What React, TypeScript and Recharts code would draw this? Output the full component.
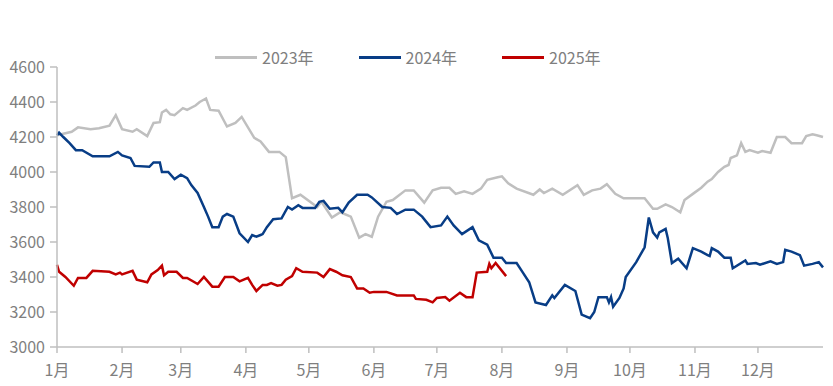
import React from "react";
import { LineChart, Line, XAxis, YAxis } from "recharts";

// x = day of year (0 = 1 Jan), y = price
const days2023 = [0, 7, 10, 16, 20, 25, 28, 31, 36, 38, 43, 46, 49, 50, 52, 54, 56, 60, 62, 66, 68, 71, 73, 77, 81, 85, 88, 94, 97, 101, 106, 109, 112, 116, 124, 126, 131, 135, 140, 144, 147, 150, 153, 157, 160, 166, 170, 175, 179, 183, 187, 190, 194, 198, 202, 205, 210, 212, 215, 219, 227, 230, 232, 236, 241, 248, 251, 255, 259, 262, 266, 270, 280, 284, 286, 290, 293, 297, 299, 303, 307, 310, 312, 315, 318, 320, 321, 324, 326, 328, 330, 334, 336, 340, 343, 347, 350, 355, 357, 360, 362, 365];
const values2023 = [4210, 4230, 4255, 4245, 4250, 4265, 4325, 4245, 4230, 4245, 4205, 4280, 4285, 4340, 4355, 4330, 4325, 4365, 4355, 4380, 4400, 4420, 4355, 4350, 4260, 4280, 4315, 4195, 4175, 4115, 4115, 4085, 3850, 3870, 3800, 3830, 3740, 3770, 3745, 3625, 3645, 3630, 3745, 3830, 3840, 3895, 3895, 3825, 3895, 3910, 3910, 3875, 3890, 3875, 3905, 3955, 3970, 3975, 3935, 3905, 3870, 3900, 3880, 3905, 3870, 3925, 3870, 3895, 3905, 3930, 3875, 3850, 3850, 3790, 3790, 3815, 3800, 3770, 3840, 3875, 3910, 3945, 3960, 4000, 4030, 4040, 4080, 4095, 4165, 4115, 4125, 4110, 4120, 4110, 4200, 4200, 4165, 4165, 4205, 4215, 4210, 4200];

const days2024 = [0, 1, 3, 6, 9, 12, 17, 25, 29, 31, 35, 37, 44, 46, 49, 50, 53, 56, 59, 62, 64, 67, 70, 72, 74, 77, 79, 81, 84, 87, 91, 93, 95, 97, 98, 100, 103, 107, 110, 112, 115, 117, 123, 125, 127, 130, 134, 136, 139, 143, 148, 150, 155, 159, 162, 166, 170, 174, 178, 183, 186, 189, 193, 198, 201, 205, 208, 212, 214, 219, 222, 225, 228, 233, 236, 237, 242, 247, 250, 254, 256, 258, 262, 263, 264, 265, 268, 270, 271, 276, 280, 282, 284, 286, 287, 290, 291, 293, 296, 300, 303, 307, 310, 311, 312, 315, 318, 321, 322, 328, 329, 333, 335, 340, 343, 346, 347, 350, 354, 356, 360, 363, 365];
const values2024 = [4210, 4225, 4200, 4165, 4125, 4125, 4090, 4090, 4115, 4095, 4080, 4035, 4030, 4055, 4055, 4000, 4000, 3960, 3985, 3965, 3925, 3880, 3800, 3745, 3685, 3685, 3745, 3760, 3745, 3650, 3600, 3640, 3630, 3640, 3645, 3685, 3730, 3735, 3800, 3785, 3810, 3795, 3795, 3830, 3835, 3790, 3795, 3770, 3825, 3870, 3870, 3855, 3800, 3795, 3760, 3785, 3785, 3745, 3685, 3695, 3745, 3695, 3645, 3685, 3610, 3585, 3510, 3510, 3480, 3480, 3425, 3370, 3255, 3240, 3295, 3280, 3355, 3320, 3185, 3165, 3200, 3285, 3285, 3255, 3285, 3230, 3280, 3335, 3400, 3485, 3570, 3740, 3655, 3625, 3655, 3675, 3625, 3480, 3505, 3450, 3565, 3545, 3525, 3520, 3565, 3545, 3510, 3510, 3450, 3495, 3475, 3480, 3470, 3490, 3475, 3485, 3555, 3545, 3525, 3465, 3475, 3485, 3455];

const days2025 = [0, 1, 4, 8, 10, 14, 17, 25, 28, 30, 31, 36, 38, 43, 45, 48, 50, 51, 53, 57, 60, 62, 67, 70, 74, 77, 80, 84, 87, 91, 93, 95, 98, 100, 102, 105, 107, 109, 112, 114, 117, 124, 127, 130, 133, 136, 140, 143, 146, 149, 151, 157, 162, 170, 171, 176, 179, 181, 185, 187, 192, 195, 198, 200, 205, 206, 207, 209, 214];
const values2025 = [3470, 3430, 3400, 3350, 3395, 3395, 3435, 3430, 3415, 3425, 3415, 3435, 3385, 3370, 3415, 3440, 3465, 3410, 3430, 3430, 3395, 3395, 3360, 3400, 3345, 3345, 3400, 3400, 3375, 3395, 3355, 3320, 3355, 3355, 3365, 3350, 3355, 3385, 3405, 3450, 3430, 3425, 3400, 3445, 3430, 3410, 3400, 3335, 3335, 3310, 3315, 3315, 3295, 3295, 3275, 3270, 3255, 3280, 3285, 3265, 3310, 3285, 3285, 3425, 3430, 3475, 3450, 3480, 3405];

const monthStarts = [0, 31, 59, 90, 120, 151, 181, 212, 243, 273, 304, 334];
const monthLabels = ["1月", "2月", "3月", "4月", "5月", "6月", "7月", "8月", "9月", "10月", "11月", "12月"];
const yTicks = [3000, 3200, 3400, 3600, 3800, 4000, 4200, 4400, 4600];

const zip = (days: number[], values: number[]) => days.map((d, i) => ({ day: d, value: values[i] }));

const series = [
  { name: "2023年", color: "#bfbfbf", data: zip(days2023, values2023) },
  { name: "2024年", color: "#083d86", data: zip(days2024, values2024) },
  { name: "2025年", color: "#c00000", data: zip(days2025, values2025) },
];

const FONT = "'Noto Sans CJK SC', 'Noto Sans', sans-serif";
const axisColor = "#bfbfbf";
const textColor = "#7f7f7f";

function LegendRow() {
  return (
    <div
      style={{
        position: "absolute", top: 45, left: 215, height: 24,
        display: "flex", alignItems: "center", fontFamily: FONT, fontSize: 16, color: textColor,
      }}
    >
      {series.map((s, i) => (
        <div key={s.name} style={{ display: "flex", alignItems: "center", marginRight: i < series.length - 1 ? 45 : 0 }}>
          <span style={{ display: "inline-block", width: 42, height: 3, background: s.color, marginRight: 5 }} />
          <span>{s.name}</span>
        </div>
      ))}
    </div>
  );
}

export default function App() {
  return (
    <div style={{ position: "absolute", left: 0, top: 0, width: 833, height: 386, background: "#fff" }}>
      <LegendRow />
      <LineChart width={833} height={386} margin={{ top: 67, right: 10, left: 0, bottom: 9 }}>
        <XAxis
          type="number"
          dataKey="day"
          domain={[0, 365]}
          ticks={monthStarts}
          tickFormatter={(v) => monthLabels[monthStarts.indexOf(v)] ?? ""}
          allowDuplicatedCategory={false}
          height={30}
          stroke={axisColor}
          strokeWidth={1.5}
          tickSize={6}
          tickMargin={12}
          tick={{ fill: textColor, fontSize: 16, fontFamily: FONT }}
        />
        <YAxis
          domain={[3000, 4600]}
          ticks={yTicks}
          width={57}
          stroke={axisColor}
          strokeWidth={1.5}
          tickSize={7}
          tickMargin={5}
          tick={{ fill: textColor, fontSize: 16, fontFamily: FONT }}
        />
        {series.map((s) => (
          <Line
            key={s.name}
            data={s.data}
            dataKey="value"
            name={s.name}
            type="linear"
            stroke={s.color}
            strokeWidth={2.5}
            dot={false}
            isAnimationActive={false}
          />
        ))}
      </LineChart>
    </div>
  );
}
